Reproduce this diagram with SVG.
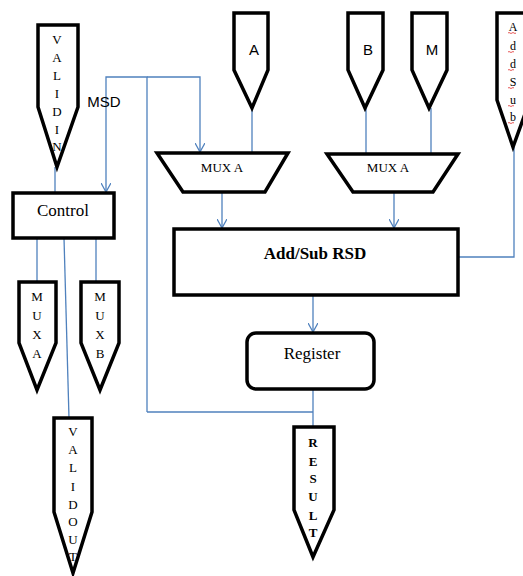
<svg xmlns="http://www.w3.org/2000/svg" width="523" height="576" viewBox="0 0 523 576">
<defs>
<marker id="arr" viewBox="0 0 10 10" refX="9" refY="5" markerWidth="10" markerHeight="10" markerUnits="userSpaceOnUse" orient="auto">
<path d="M0,0 L9,5 L0,10" fill="none" stroke="#4f81bd" stroke-width="1.3"/>
</marker>
</defs>
<style>
.shape{fill:#fff;stroke:#000;stroke-width:3.5;stroke-linejoin:miter}
.wire{fill:none;stroke:#4f81bd;stroke-width:1.3}
.vl{font-family:"Liberation Serif","Times New Roman",serif;font-size:13px;text-anchor:middle;fill:#000}
.sans{font-family:"Liberation Sans",Arial,sans-serif;font-size:15px;text-anchor:middle;fill:#000}
.ser{font-family:"Liberation Serif","Times New Roman",serif;font-size:17px;text-anchor:middle;fill:#000}
</style>
<rect width="523" height="576" fill="#fff"/>
<g id="connectors">
<path class="wire" d="M55,167 V193"/>
<path class="wire" d="M147,412 V77 H106 V192" marker-end="url(#arr)"/>
<path class="wire" d="M147,77 H200 V152" marker-end="url(#arr)"/>
<path class="wire" d="M252,108 V153"/>
<path class="wire" d="M366,108 V153"/>
<path class="wire" d="M431,108 V153"/>
<path class="wire" d="M222,192 V228" marker-end="url(#arr)"/>
<path class="wire" d="M394,192 V228" marker-end="url(#arr)"/>
<path class="wire" d="M514,147 V257 H458"/>
<path class="wire" d="M313,296 V332" marker-end="url(#arr)"/>
<path class="wire" d="M313,389 V427"/>
<path class="wire" d="M147,412 H313"/>
<path class="wire" d="M37,238 V282"/>
<path class="wire" d="M96,238 V282"/>
<path class="wire" d="M64,238 L69,418"/>
</g>
<g id="validin">
<path class="shape" d="M38,25 H78 V107 L57,167 L38,107 Z"/>
<text class="vl" x="57" y="44">V</text>
<text class="vl" x="57" y="62">A</text>
<text class="vl" x="57" y="80">L</text>
<text class="vl" x="57" y="98">I</text>
<text class="vl" x="57" y="116">D</text>
<text class="vl" x="57" y="134">I</text>
<text class="vl" x="57" y="151">N</text>
</g>
<g id="msd-label">
<text class="sans" x="104" y="107">MSD</text>
</g>
<g id="control">
<rect class="shape" x="13" y="193" width="101" height="45"/>
<text class="ser" x="63" y="216">Control</text>
</g>
<g id="muxa-out">
<path class="shape" d="M19,282 H56 V343 L37,390 L19,343 Z"/>
<text class="vl" x="37" y="301">M</text>
<text class="vl" x="37" y="320">U</text>
<text class="vl" x="37" y="339">X</text>
<text class="vl" x="37" y="358">A</text>
</g>
<g id="muxb-out">
<path class="shape" d="M81,282 H119 V343 L100,390 L81,343 Z"/>
<text class="vl" x="100" y="301">M</text>
<text class="vl" x="100" y="320">U</text>
<text class="vl" x="100" y="339">X</text>
<text class="vl" x="100" y="358">B</text>
</g>
<g id="validout">
<path class="shape" d="M54,418 H92 V512 L73,573 L54,512 Z"/>
<text class="vl" x="73" y="436">V</text>
<text class="vl" x="73" y="454">A</text>
<text class="vl" x="73" y="472">L</text>
<text class="vl" x="73" y="491">I</text>
<text class="vl" x="73" y="509">D</text>
<text class="vl" x="73" y="526">O</text>
<text class="vl" x="73" y="544">U</text>
<text class="vl" x="73" y="561">T</text>
</g>
<g id="in-a">
<path class="shape" d="M234,13 H268 V70 L252,108 L234,70 Z"/>
<text class="sans" x="254" y="55">A</text>
</g>
<g id="in-b">
<path class="shape" d="M348,13 H383 V70 L365,108 L348,70 Z"/>
<text class="sans" x="368" y="55">B</text>
</g>
<g id="in-m">
<path class="shape" d="M412,13 H447 V70 L429,108 L412,70 Z"/>
<text class="sans" x="432" y="55">M</text>
</g>
<g id="addsub-in">
<path class="shape" d="M497,13 H530 V100 L513,147 L497,100 Z"/>
<g class="vl" style="font-size:12px">
<text x="513" y="31">A</text>
<text x="513" y="50">d</text>
<text x="513" y="68">d</text>
<text x="513" y="86">S</text>
<text x="513" y="104">u</text>
<text x="513" y="121">b</text>
</g>
<path d="M508,33 q1,-1 2,0 t2,0 t2,0 t2,0 M508,52 q1,-1 2,0 t2,0 t2,0 M508,70 q1,-1 2,0 t2,0 t2,0 M508,88 q1,-1 2,0 t2,0 t2,0 M508,106 q1,-1 2,0 t2,0 t2,0 M508,123 q1,-1 2,0 t2,0 t2,0" fill="none" stroke="#e03030" stroke-width="0.8"/>
</g>
<g id="mux-left">
<path class="shape" d="M157,153 H288 L265,192 H183 Z"/>
<text class="vl" x="222" y="172">MUX A</text>
</g>
<g id="mux-right">
<path class="shape" d="M327,154 H458 L433,192 H353 Z"/>
<text class="vl" x="388" y="172">MUX A</text>
</g>
<g id="addsub-rsd">
<rect class="shape" x="174" y="229" width="284" height="66"/>
<text class="ser" x="315" y="259" font-weight="bold">Add/Sub RSD</text>
</g>
<g id="register">
<rect class="shape" x="247" y="333" width="127" height="56" rx="9"/>
<text class="ser" x="312" y="359">Register</text>
</g>
<g id="result">
<path class="shape" d="M294,427 H334 V510 L313,557 L294,510 Z"/>
<g class="vl" font-weight="bold">
<text x="313" y="447">R</text>
<text x="313" y="466">E</text>
<text x="313" y="483">S</text>
<text x="313" y="501">U</text>
<text x="313" y="520">L</text>
<text x="313" y="537">T</text>
</g>
</g>
</svg>
